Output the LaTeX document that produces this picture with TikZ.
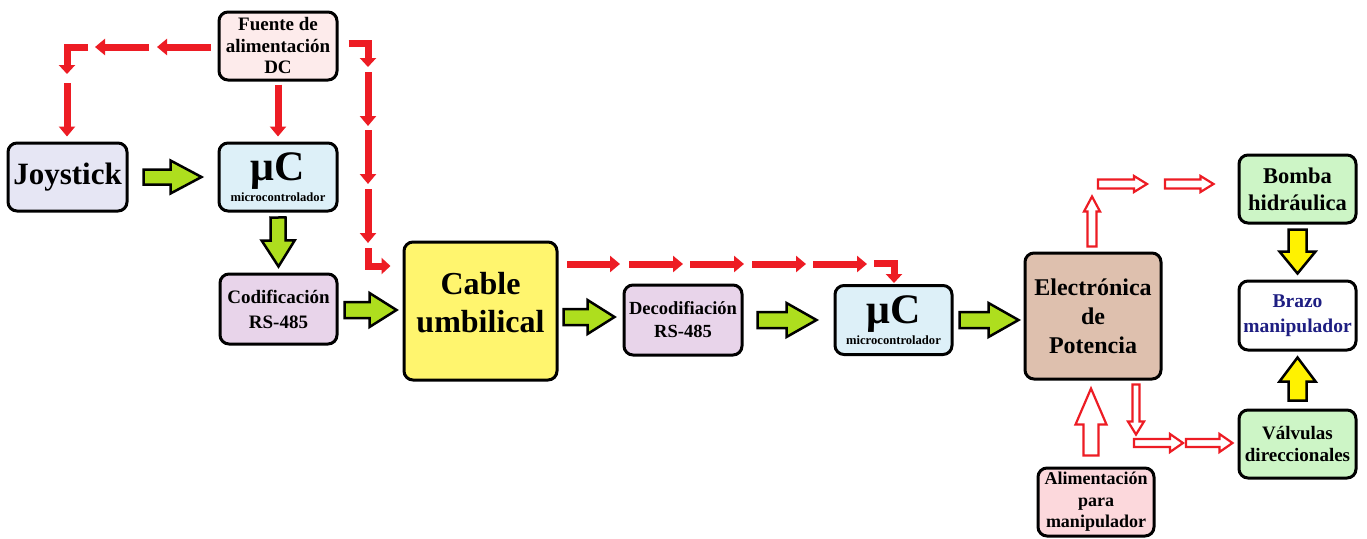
\documentclass[tikz,border=0pt]{standalone}
\usepackage{fontspec}
\setmainfont{Liberation Serif}
\usetikzlibrary{calc,arrows.meta}
\definecolor{cRed}{HTML}{ED1C24}
\definecolor{cGreen}{HTML}{AEDE1E}
\definecolor{cYellow}{HTML}{FFF200}
\definecolor{cFuente}{HTML}{FDEBEB}
\definecolor{cJoy}{HTML}{E6E6F4}
\definecolor{cUC}{HTML}{DDF0F8}
\definecolor{cCod}{HTML}{E8D4EA}
\definecolor{cCable}{HTML}{FFF56E}
\definecolor{cElec}{HTML}{DEC0AE}
\definecolor{cVerde}{HTML}{CDF5C6}
\definecolor{cAlim}{HTML}{FCD8DC}
\definecolor{cNavy}{HTML}{1E1E82}
\newcommand\barrow[7][]{%
  \coordinate (#2-a) at #3;
  \coordinate (#2-b) at #4;
  \coordinate (#2-h) at ($(#2-b)!#7!(#2-a)$);
  \draw[#1] ($(#2-a)!#5!90:(#2-b)$) -- ($(#2-h)!#5!90:(#2-b)$) -- ($(#2-h)!#6!90:(#2-b)$) -- (#2-b) -- ($(#2-h)!#6!-90:(#2-b)$) -- ($(#2-h)!#5!-90:(#2-b)$) -- ($(#2-a)!#5!-90:(#2-b)$) -- cycle;}
\tikzset{
  box/.style={draw=black, line width=3pt, rounded corners=9pt, align=center, inner sep=0pt},
  redarr/.style={draw=cRed, line width=7pt, line join=miter, -{Triangle[length=10pt,width=16pt]}},
  hollow/.style={draw=cRed, line width=2.2pt, fill=white, line join=miter},
  greenarr/.style={draw=black, line width=2.5pt, fill=cGreen, line join=miter},
  yellowarr/.style={draw=black, line width=2.5pt, fill=cYellow, line join=miter},
}
\begin{document}
\begin{tikzpicture}[x=1pt,y=-1pt]
\useasboundingbox[fill=white] (0,0) rectangle (1367,538);
% boxes
\node[box, fill=cFuente, minimum width=118pt, minimum height=68pt, font=\fontsize{19}{21.5}\selectfont\bfseries] (fuente) at (278,46) {Fuente de\\alimentación\\DC};
\node[box, fill=cJoy, minimum width=119pt, minimum height=68pt, font=\fontsize{31}{34}\selectfont\bfseries] (joy) at (67.5,177) {Joystick};
\node[box, fill=cUC, minimum width=118pt, minimum height=68pt, font=\fontsize{12.6}{21}\selectfont\bfseries] (uc1) at (278,177) {{\fontsize{42}{21}\selectfont μC}\\microcontrolador};
\node[box, fill=cCod, minimum width=117pt, minimum height=70pt, font=\fontsize{19}{25}\selectfont\bfseries] (cod) at (278.5,309) {Codificación\\RS-485};
\node[box, fill=cCable, minimum width=153pt, minimum height=138pt] (cable) at (480.5,311) {};
\node[align=center, inner sep=0pt, font=\fontsize{32}{38}\selectfont\bfseries] (cabletxt) at ($(cable.center)+(0,-8)$) {Cable\\umbilical};
\node[box, fill=cCod, minimum width=118pt, minimum height=70pt, font=\fontsize{18.5}{23}\selectfont\bfseries] (dec) at (683,320) {Decodifiación\\RS-485};
\node[box, fill=cUC, minimum width=117pt, minimum height=69pt, font=\fontsize{12.6}{21}\selectfont\bfseries] (uc2) at (893.5,320) {{\fontsize{42}{21}\selectfont μC}\\microcontrolador};
\node[box, fill=cElec, minimum width=136pt, minimum height=126pt, font=\fontsize{24}{29}\selectfont\bfseries] (elec) at (1093,316) {Electrónica\\de\\Potencia};
\node[box, fill=cVerde, minimum width=117pt, minimum height=68pt, font=\fontsize{22.5}{27}\selectfont\bfseries] (bomba) at (1297.5,189) {Bomba\\hidráulica};
\node[box, fill=white, minimum width=117pt, minimum height=69pt, text=cNavy, font=\fontsize{19.5}{25}\selectfont\bfseries] (brazo) at (1297.5,315.5) {Brazo\\manipulador};
\node[box, fill=cVerde, minimum width=117pt, minimum height=68pt, font=\fontsize{19}{22}\selectfont\bfseries] (valv) at (1297.5,444) {Válvulas\\direccionales};
\node[box, fill=cAlim, minimum width=116pt, minimum height=68pt, font=\fontsize{18}{21.5}\selectfont\bfseries] (alim) at (1096,502) {Alimentación\\para\\manipulador};
% green block arrows
\barrow[greenarr]{g1}{($(joy.east)+(15,0)$)}{($(uc1.west)+(-16,0)$)}{7.5pt}{16.5pt}{31pt}
\barrow[greenarr]{g2}{($(uc1.south)+(0,5)$)}{($(cod.north)+(0,-6)$)}{7.5pt}{16.5pt}{26pt}
\barrow[greenarr]{g3}{($(cod.east)+(6,1)$)}{($(cable.west)+(-6,-1)$)}{8pt}{17pt}{27pt}
\barrow[greenarr]{g4}{($(cable.east)+(5,6)$)}{($(dec.west)+(-8,-3)$)}{8pt}{17pt}{27pt}
\barrow[greenarr]{g5}{($(dec.east)+(14,0)$)}{($(uc2.west)+(-17,0)$)}{8pt}{17pt}{30pt}
\barrow[greenarr]{g6}{($(uc2.east)+(6,0)$)}{($(elec.west)+(-5,4)$)}{8pt}{17pt}{30pt}
% yellow block arrows
\barrow[yellowarr]{y1}{($(bomba.south)+(0,5)$)}{($(brazo.north)+(0,-6)$)}{9pt}{18pt}{22pt}
\barrow[yellowarr]{y2}{($(valv.north)+(0,-8)$)}{($(brazo.south)+(0,6)$)}{9pt}{18pt}{24pt}
% hollow red arrows
\barrow[hollow]{h1}{($(elec.north)+(-1,-5)$)}{($(elec.north)+(-1,-55)$)}{4.5pt}{8pt}{15pt}
\barrow[hollow]{h2}{(1098,184)}{(1147,184)}{4.5pt}{8pt}{13pt}
\barrow[hollow]{h3}{(1165,184)}{($(bomba.west)+(-24,-5)$)}{4.5pt}{8pt}{13pt}
\barrow[hollow]{h4}{($(alim.north)+(-5,-11)$)}{($(elec.south)+(-2,8)$)}{7.5pt}{15.5pt}{36pt}
\barrow[hollow]{h5}{($(elec.south)+(43,4)$)}{($(elec.south)+(43,54)$)}{3.5pt}{8pt}{13pt}
\barrow[hollow]{h6}{(1134,443)}{(1183,443)}{4pt}{9pt}{13pt}
\barrow[hollow]{h7}{(1186,443)}{($(valv.west)+(-5,-1)$)}{4pt}{9pt}{13pt}
% red dashed power arrows
\draw[redarr] ($(fuente.west)+(-7,1)$) -- (157,47);
\draw[redarr] (149,47) -- (95,47);
\draw[redarr, -{Triangle[length=9pt,width=16pt]}] (88,47) -- (67,47) -- (67,74);
\draw[redarr] (67,83) -- ($(joy.north)+(-0.5,-5)$);
\draw[redarr] ($(fuente.south)+(0,3)$) -- ($(uc1.north)+(0,-5)$);
\draw[redarr, -{Triangle[length=9pt,width=16pt]}] ($(fuente.east)+(10,-3)$) -- (368,43) -- (368,67);
\draw[redarr] (368,72) -- (368,126);
\draw[redarr] (368,130) -- (368,184);
\draw[redarr] (368,189) -- (368,243);
\draw[redarr, -{Triangle[length=9pt,width=16pt]}] (368,248) -- (368,266) -- ($(cable.west)+(-12,-45)$);
\draw[redarr] (567,264) -- (620,264);
\draw[redarr] (629,264) -- (683,264);
\draw[redarr] (690,264) -- (744,264);
\draw[redarr] (752,264) -- (806,264);
\draw[redarr] (813,264) -- (867,264);
\draw[redarr, -{Triangle[length=9pt,width=16pt]}] (874,263) -- (894,263) -- ($(uc2.north)+(0.5,-1)$);
\end{tikzpicture}
\end{document}
